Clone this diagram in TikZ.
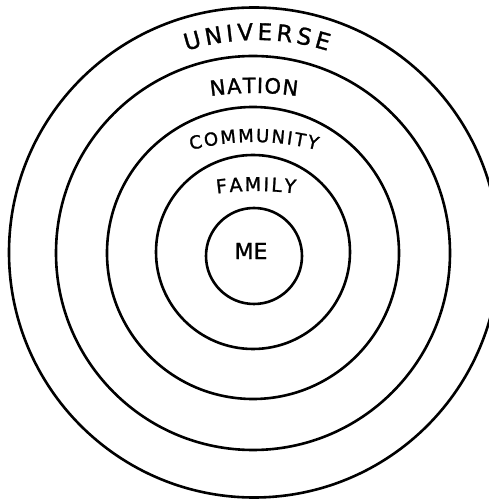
\documentclass[tikz,border=0pt]{standalone}
\usepackage{fontspec}
\setmainfont{DejaVu Sans}
\newfontfamily\hand[FakeBold=1.2]{DejaVu Sans}
\usetikzlibrary{decorations.text}
\tikzset{
  ring/.style={draw=black, line width=2.6pt},
  arclabel/.style={decorate, decoration={text along path, text align={fit to path}, text={#1}}}
}
\begin{document}
\begin{tikzpicture}[x=1pt,y=1pt]
\useasboundingbox (0,0) rectangle (489,501);
\coordinate (c) at (253,248);
\coordinate (cu) at (257,226);
\coordinate (cn) at (254,108);
\coordinate (cc) at (254,109);
\coordinate (cf) at (256,10);
\draw[ring] (254,248.5) circle[radius=245];
\draw[ring] (c) circle[radius=197];
\draw[ring] (c) circle[radius=146];
\draw[ring] (253,249) circle[radius=97];
\draw[ring] (254,245) circle[radius=48];
% labels along arcs
\path[arclabel={|\hand\fontsize{23}{23}\selectfont|UNIVERSE}]
  ([shift={(107.5:235)}]cu) arc[start angle=107.5, end angle=72.5, radius=235];
\path[arclabel={|\hand\fontsize{21}{21}\selectfont|NATION}]
  ([shift={(98.3:300)}]cn) arc[start angle=98.3, end angle=81.7, radius=300];
\path[arclabel={|\hand\fontsize{18}{18}\selectfont|COMMUNITY}]
  ([shift={(104.6:250)}]cc) arc[start angle=104.6, end angle=75.4, radius=250];
\path[arclabel={|\hand\fontsize{19}{19}\selectfont|FAMILY}]
  ([shift={(97.5:300)}]cf) arc[start angle=97.5, end angle=82.5, radius=300];
\node[font=\hand\fontsize{22}{22}\selectfont] (me) at (251,250) {ME};
\end{tikzpicture}
\end{document}
